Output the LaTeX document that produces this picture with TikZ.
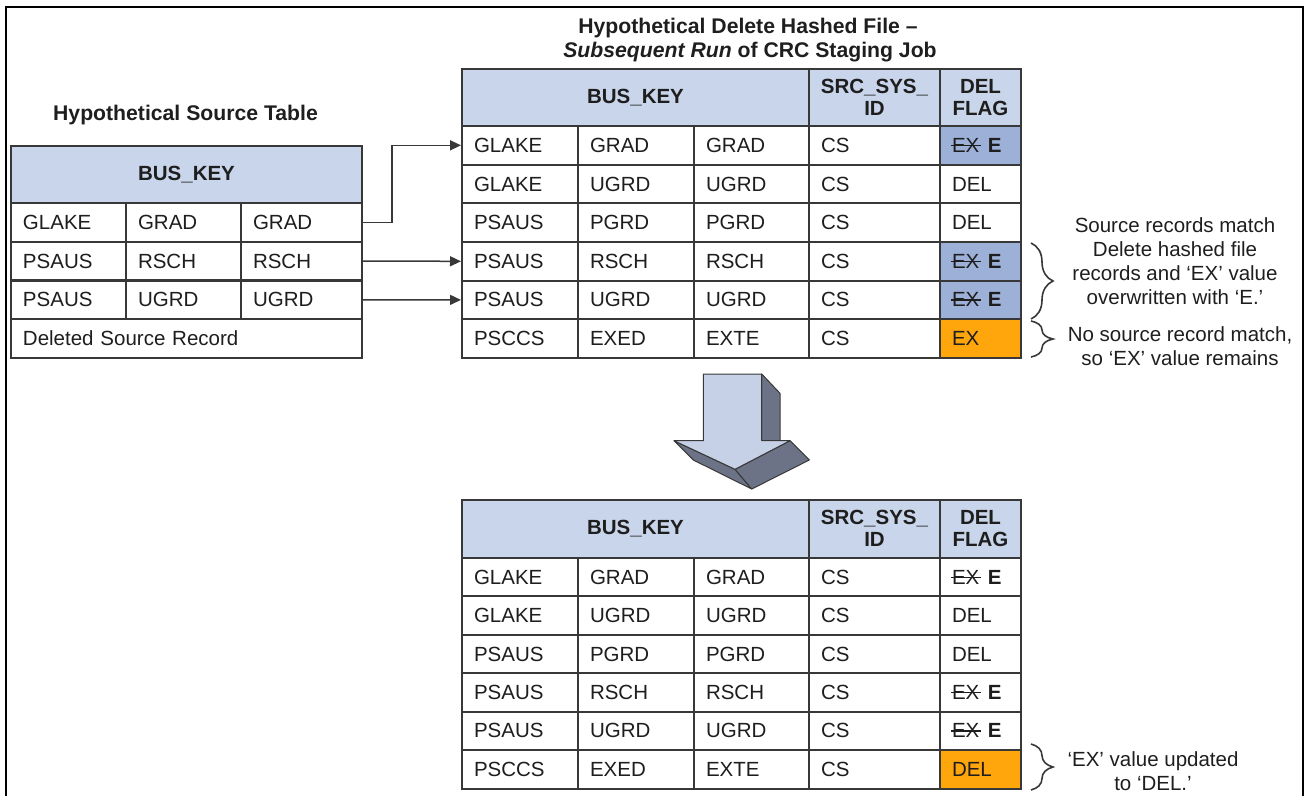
\documentclass[tikz,border=0pt]{standalone}
\usepackage{fontspec}
\setmainfont{Liberation Sans}
\usetikzlibrary{arrows.meta,decorations.pathreplacing}

\definecolor{hdr}{HTML}{C9D5EA}
\definecolor{hit}{HTML}{9DB0D8}
\definecolor{org}{HTML}{FFA60D}
\definecolor{ink}{HTML}{1E1E1E}
\definecolor{rulec}{HTML}{383838}
\definecolor{face}{HTML}{C6D1E8}
\definecolor{shade}{HTML}{6C7386}

% struck-through text
\newcommand\strk[1]{\setbox0\hbox{#1}\rlap{\kern-0.04em\rule[0.31em]{\dimexpr\wd0+0.12em\relax}{0.06em}}\box0}
\newcommand\exe{\strk{EX}\hspace{0.42em}\textbf{E}}

\newcommand\cellfont{\fontsize{20.5}{24}\selectfont}
\newcommand\headfont{\fontsize{20.5}{22}\selectfont\bfseries}

\tikzset{
  cellbox/.style={draw=rulec, line width=2pt, rectangle, anchor=north west,
    inner xsep=12pt, inner ysep=0pt, minimum height=38.6pt, align=left,
    font=\cellfont, text=ink},
  hcell/.style={draw=rulec, line width=2pt, rectangle, anchor=north west,
    fill=hdr, inner sep=0pt, align=center, font=\headfont, text=ink},
  conn/.style={draw=rulec, line width=1.5pt, -{Triangle[length=11pt,width=10pt]}},
  brc/.style={draw=rulec, line width=1.6pt,
    decorate, decoration={brace, amplitude=22pt}},
  note/.style={align=center, font=\cellfont, text=ink, inner sep=0pt},
  ttl/.style={font=\fontsize{21.2}{24}\selectfont\bfseries, text=ink, inner sep=0pt, anchor=base},
  face3d/.style={draw=rulec, line width=1pt, line join=round, fill=face},
  shade3d/.style={draw=rulec, line width=1pt, line join=round, fill=shade},
}

% one table cell: name, x, y, width, fill, text
\newcommand\cell[6]{\node[cellbox, fill=#5, minimum width=#4pt,
  text width=\the\dimexpr#4pt-24pt\relax] (#1) at (#2,#3) {#6};}

% one data row of a hashed-file table: prefix, row, y, five values, flag fill
\newcommand\datarow[9]{%
  \cell{#1-#2-1}{461}{#3}{116}{white}{#4}
  \cell{#1-#2-2}{577}{#3}{116}{white}{#5}
  \cell{#1-#2-3}{693}{#3}{115}{white}{#6}
  \cell{#1-#2-4}{808}{#3}{131}{white}{#7}
  \cell{#1-#2-5}{939}{#3}{81}{#9}{#8}}

% hashed-file table header: prefix, y
\newcommand\headrow[2]{%
  \node[hcell, minimum width=347pt, minimum height=57.5pt] (#1-h1) at (461,#2) {BUS\_KEY};
  \node[hcell, minimum width=131pt, minimum height=57.5pt] (#1-h2) at (808,#2) {SRC\_SYS\_\\ID};
  \node[hcell, minimum width=81pt, minimum height=57.5pt] (#1-h3) at (939,#2) {DEL\\FLAG};}

\begin{document}
\begin{tikzpicture}[x=1pt, y=-1pt]
\useasboundingbox (0,0) rectangle (1311,795);

% outer frame
\draw[line width=2.5pt, black] (6,800) -- (6,7) -- (1303,7) -- (1303,800);

% ---- source table ----
\node[ttl] (t1) at (185.5,120) {Hypothetical Source Table};
\node[hcell, minimum width=351pt, minimum height=57pt] (s-h) at (10,145) {BUS\_KEY};
\cell{s-1-1}{10}{202}{115}{white}{GLAKE}
\cell{s-1-2}{125}{202}{115}{white}{GRAD}
\cell{s-1-3}{240}{202}{121}{white}{GRAD}
\cell{s-2-1}{10}{240.75}{115}{white}{PSAUS}
\cell{s-2-2}{125}{240.75}{115}{white}{RSCH}
\cell{s-2-3}{240}{240.75}{121}{white}{RSCH}
\cell{s-3-1}{10}{279.5}{115}{white}{PSAUS}
\cell{s-3-2}{125}{279.5}{115}{white}{UGRD}
\cell{s-3-3}{240}{279.5}{121}{white}{UGRD}
\cell{s-4-1}{10}{318.25}{351}{white}{Deleted Source Record}

% ---- hashed file, subsequent run ----
\node[ttl] (t2a) at (748,33) {Hypothetical Delete Hashed File –};
\node[ttl] (t2b) at (750,57) {\textit{Subsequent Run} of CRC Staging Job};
\headrow{h}{68}
\datarow{h}{1}{125}{GLAKE}{GRAD}{GRAD}{CS}{\exe}{hit}
\datarow{h}{2}{163.7}{GLAKE}{UGRD}{UGRD}{CS}{DEL}{white}
\datarow{h}{3}{202.3}{PSAUS}{PGRD}{PGRD}{CS}{DEL}{white}
\datarow{h}{4}{241}{PSAUS}{RSCH}{RSCH}{CS}{\exe}{hit}
\datarow{h}{5}{279.6}{PSAUS}{UGRD}{UGRD}{CS}{\exe}{hit}
\datarow{h}{6}{318.3}{PSCCS}{EXED}{EXTE}{CS}{EX}{org}

% ---- matching source records ----
\draw[conn] (s-1-3.east) -- ++(29,0) |- (h-1-1.west);
\draw[conn] (s-2-3.east) -- (h-4-1.west);
\draw[conn] (s-3-3.east) -- (h-5-1.west);

% ---- notes with braces ----
\coordinate (b1s) at (1031,243);
\coordinate (b1e) at (1031,319);
\coordinate (b2s) at (1031,321);
\coordinate (b2e) at (1031,357);
\draw[brc] (b1s) -- (b1e);
\draw[brc] (b2s) -- (b2e);
\node[note] (n1) at (1175,261) {Source records match\\Delete hashed file\\records and ‘EX’ value\\overwritten with ‘E.’};
\node[note] (n2) at (1180,346) {No source record match,\\so ‘EX’ value remains};

% ---- 3D down arrow ----
\path[shade3d] (761.7,374) -- (780,393.3) -- (780,440.7) -- (761.7,440.7) -- cycle;
\path[shade3d] (674,440.7) -- (735,469.3) -- (751.7,489) -- (693.3,460) -- cycle;
\path[shade3d] (735,469.3) -- (790,440.7) -- (809.3,460) -- (751.7,489) -- cycle;
\path[face3d] (703.3,374) -- (761.7,374) -- (761.7,440.7) -- (790,440.7)
  -- (735,469.3) -- (674,440.7) -- (703.3,440.7) -- cycle;

% ---- hashed file after update ----
\headrow{b}{499}
\datarow{b}{1}{557}{GLAKE}{GRAD}{GRAD}{CS}{\exe}{white}
\datarow{b}{2}{595.4}{GLAKE}{UGRD}{UGRD}{CS}{DEL}{white}
\datarow{b}{3}{633.8}{PSAUS}{PGRD}{PGRD}{CS}{DEL}{white}
\datarow{b}{4}{672.2}{PSAUS}{RSCH}{RSCH}{CS}{\exe}{white}
\datarow{b}{5}{710.6}{PSAUS}{UGRD}{UGRD}{CS}{\exe}{white}
\datarow{b}{6}{749}{PSCCS}{EXED}{EXTE}{CS}{DEL}{org}

\coordinate (b3s) at (1031,744);
\coordinate (b3e) at (1031,790);
\draw[brc] (b3s) -- (b3e);
\node[note] (n3) at (1153,771) {‘EX’ value updated\\to ‘DEL.’};
\end{tikzpicture}
\end{document}
